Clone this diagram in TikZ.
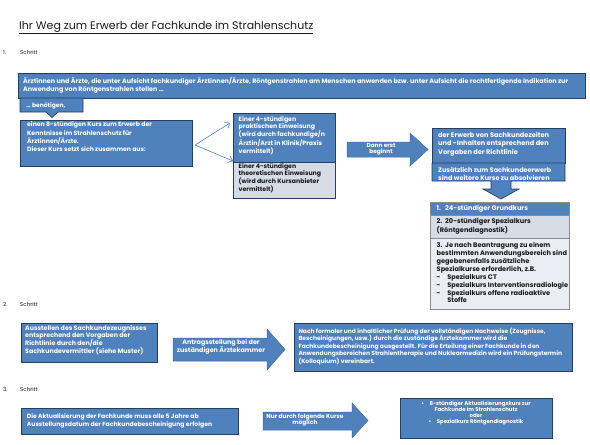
\documentclass[tikz,border=0pt]{standalone}
\usepackage{fontspec}
\setmainfont{Poppins}
\usetikzlibrary{arrows.meta}
\definecolor{bxblue}{HTML}{4F81BD}
\definecolor{bxborder}{HTML}{243F60}
\definecolor{bxedge}{HTML}{3E6DA6}
\definecolor{bxlight}{HTML}{D6DCE6}
\definecolor{bxlighter}{HTML}{EAEEF4}
\definecolor{bxgray}{HTML}{8C8C8C}
\definecolor{txtdark}{HTML}{1A1A1A}
\newcommand\bxf[2]{\bfseries\fontsize{#1}{#2}\selectfont}
\begin{document}
\begin{tikzpicture}[x=1pt,y=-1pt,
  box/.style={draw=bxborder, line width=0.7pt, fill=bxblue, inner sep=0, anchor=north west},
  lbox/.style={box, fill=bxlight},
  rowbox/.style={draw=bxgray, line width=0.5pt, inner sep=0, anchor=north west},
  wt/.style={anchor=north west, inner sep=0, align=left, text=white, font=\bxf{5.8}{8}, execute at begin node={\rule{0pt}{5pt}}},
  dt/.style={wt, text=txtdark},
  ct/.style={anchor=center, inner sep=0, align=center, text=white, font=\bxf{5.8}{6.6}},
  barrow/.style={fill=bxblue, draw=bxedge, line width=0.5pt},
  thinarrow/.style={draw=bxblue, line width=0.6pt, -{Straight Barb[length=4pt,width=7pt]}},
  stepl/.style={anchor=base west, inner sep=0, text=txtdark, font=\fontsize{5.5}{6}\selectfont}
]
\useasboundingbox (0,0) rectangle (590,445);
\fill[white] (0,0) rectangle (590,445);

% title
\node[anchor=base west, inner sep=0, text=txtdark, font=\fontsize{11}{13}\selectfont] (title) at (19,29.3)
  {\underline{Ihr Weg zum Erwerb der Fachkunde im Strahlenschutz}};

% step labels
\node[stepl] (s1n) at (3,54) {1.};
\node[stepl] (s1) at (20,54) {Schritt};
\node[stepl] (s2n) at (3,306) {2.};
\node[stepl] (s2) at (20,306) {Schritt};
\node[stepl] (s3n) at (3,391) {3.};
\node[stepl] (s3) at (20,391) {Schritt};

% ---------- step 1
\node[box, minimum width=567pt, minimum height=25pt] (top) at (18,73) {};
\node[wt, font=\bxf{6.4}{8}] (toptxt) at (23,77) {Ärztinnen und Ärzte, die unter Aufsicht fachkundiger Ärztinnen/Ärzte, Röntgenstrahlen am Menschen anwenden bzw. unter Aufsicht die rechtfertigende Indikation zur\\Anwendung von Röntgenstrahlen stellen …};

\path[box] (20,98) -- (83,98) -- (83,112) -- (58,112) -- (52,117.5) -- (46,112) -- (20,112) -- cycle;
\node[wt, font=\bxf{6}{8}] (ben) at (26,102) {… benötigen,};

\node[box, minimum width=172pt, minimum height=46pt] (kurs) at (20,120) {};
\node[wt, font=\bxf{6.15}{8.2}] (kurstxt) at (27,121.7) {einen 8-stündigen Kurs zum Erwerb der\\Kenntnisse im Strahlenschutz für\\Ärztinnen/Ärzte.\\Dieser Kurs setzt sich zusammen aus:};

\node[box, minimum width=102pt, minimum height=49pt] (prak) at (233,113) {};
\node[lbox, minimum width=102pt, minimum height=36pt] (theo) at (233,162) {};
\node[wt, font=\bxf{6.2}{6.7}] (praktxt) at (238.5,116.5) {Einer 4-stündigen\\praktischen Einweisung\\(wird durch fachkundige/n\\Ärztin/Arzt in Klinik/Praxis\\vermittelt)};
\node[dt, font=\bxf{6.2}{6.9}] (theotxt) at (238.5,163.5) {Einer 4-stündigen\\theoretischen Einweisung\\(wird durch Kursanbieter\\vermittelt)};

\coordinate (fork) at (195,145);
\coordinate (tipA) at (230,123);
\coordinate (tipB) at (233,161);
\draw[thinarrow] (fork) -- (tipA);
\draw[thinarrow] (fork) -- (tipB);

\path[barrow] (347,142) -- (410,142) -- (410,133) -- (428,149.5) -- (410,166) -- (410,157) -- (347,157) -- cycle;
\node[ct, font=\bxf{5.8}{6}] (dann) at (381,149) {Dann erst\\beginnt};

\node[box, minimum width=133pt, minimum height=35pt] (erwerb) at (432,128) {};
\node[wt, font=\bxf{6.6}{8.3}] (erwerbtxt) at (438,132) {der Erwerb von Sachkundezeiten\\und -Inhalten entsprechend den\\Vorgaben der Richtlinie};

\path[box] (432,163) -- (565,163) -- (565,181) -- (511,181) -- (511,189) -- (519,189) -- (501,199) -- (483,189) -- (491,189) -- (491,181) -- (432,181) -- cycle;
\node[wt, font=\bxf{6.5}{7.6}] (zus) at (438,167.3) {Zusätzlich zum Sachkundeerwerb\\sind weitere Kurse zu absolvieren};

\node[rowbox, fill=bxblue, minimum width=139pt, minimum height=13pt] (row1) at (430,202) {};
\node[rowbox, fill=bxlight, minimum width=139pt, minimum height=23pt] (row2) at (430,215) {};
\node[rowbox, fill=bxlighter, minimum width=139pt, minimum height=70.5pt] (row3) at (430,238) {};
\node[wt, font=\bxf{6.6}{8}] (row1txt) at (436.5,205.3) {\makebox[8.5pt][l]{1.}24-stündiger Grundkurs};
\node[dt, font=\bxf{6.6}{8.2}] (row2txt) at (436.5,218.5) {\makebox[8.5pt][l]{2.}20-stündiger Spezialkurs\\(Röntgendiagnostik)};
\node[dt, font=\bxf{6.6}{7}] (row3txt) at (436.5,241.8) {\makebox[8.5pt][l]{3.}Je nach Beantragung zu einem\\bestimmten Anwendungsbereich sind\\gegebenenfalls zusätzliche\\Spezialkurse erforderlich, z.B.\\\makebox[10.6pt][l]{-}Spezialkurs CT\\\makebox[10.6pt][l]{-}Spezialkurs Interventionsradiologie\\\makebox[10.6pt][l]{-}Spezialkurs offene radioaktive\\\hspace*{10.6pt}Stoffe};

% ---------- step 2
\node[box, minimum width=136pt, minimum height=39pt] (zeug) at (21,323) {};
\node[wt, font=\bxf{6.3}{6.9}] (zeugtxt) at (25,325) {Ausstellen des Sachkundezeugnisses\\entsprechend den Vorgaben der\\Richtlinie durch den/die\\Sachkundevermittler (siehe Muster)};

\path[barrow] (173,338) -- (267,338) -- (267,329) -- (285,349.5) -- (267,370) -- (267,361) -- (173,361) -- cycle;
\node[ct, font=\bxf{6.4}{7.4}] (antrag) at (221,347) {Antragsstellung bei der\\zuständigen Ärztekammer};

\node[box, minimum width=278pt, minimum height=48pt] (pruef) at (294,323) {};
\node[wt, font=\bxf{5.95}{7.5}] (prueftxt) at (298.3,327.5) {Nach formaler und inhaltlicher Prüfung der vollständigen Nachweise (Zeugnisse,\\Bescheinigungen, usw.) durch die zuständige Ärztekammer wird die\\Fachkundebescheinigung ausgestellt. Für die Erteilung einer Fachkunde in den\\Anwendungsbereichen Strahlentherapie und Nuklearmedizin wird ein Prüfungstermin\\(Kolloquium) vereinbart.};

% ---------- step 3
\node[box, minimum width=217pt, minimum height=26pt] (akt) at (21,408) {};
\node[wt, font=\bxf{6.1}{8.3}] (akttxt) at (26.7,413.5) {Die Aktualisierung der Fachkunde muss alle 5 Jahre ab\\Ausstellungsdatum der Fachkundebescheinigung erfolgen};

\path[barrow] (263,412) -- (352,412) -- (352,403) -- (368,420.5) -- (352,438) -- (352,430) -- (263,430) -- cycle;
\node[ct, font=\bxf{5.9}{6.7}] (nur) at (305,420) {Nur durch folgende Kurse\\möglich};

\node[box, minimum width=152pt, minimum height=40pt] (kurse) at (400,398) {};
\node[ct, anchor=north, font=\bxf{5.4}{5.9}, execute at begin node={\rule{0pt}{4.5pt}}] (kursetxt) at (476,401) {•\quad 8-stündiger Aktualisierungskurs zur\\Fachkunde im Strahlenschutz\\oder\\•\quad Spezialkurs Röntgendiagnostik};
\end{tikzpicture}
\end{document}
